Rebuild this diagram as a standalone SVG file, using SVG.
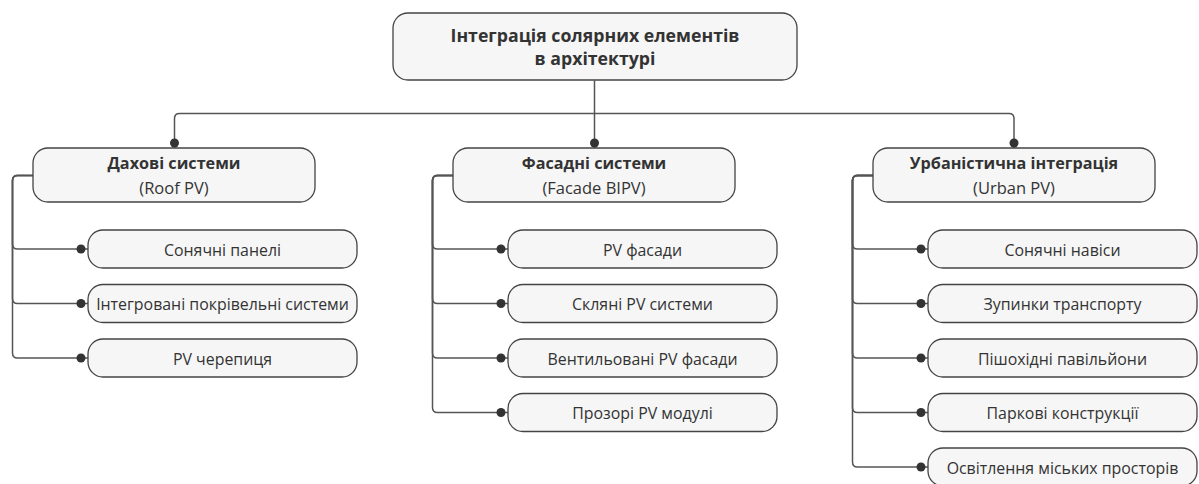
<svg xmlns="http://www.w3.org/2000/svg" width="1199" height="484" viewBox="0 0 1199 484">
<style>
.box{fill:#f6f6f6;stroke:#444;stroke-width:1.3}
.ln{fill:none;stroke:#555;stroke-width:1.5}
.dot{fill:#333}
text{font-family:"Open Sans","Noto Sans","Liberation Sans",sans-serif;fill:#333;text-anchor:middle}
.t{font-size:17.7px;font-weight:bold}
.h{font-size:16.2px;font-weight:bold}
.s{font-size:16.5px}
.c{font-size:15.9px}
</style>
<rect width="1199" height="484" fill="#ffffff"/>
<g id="connectors">
<path class="ln" d="M594.5 80.5 V148"/>
<path class="ln" d="M594.5 113.5 H179.5 Q174.5 113.5 174.5 118.5 V148"/>
<path class="ln" d="M594.5 113.5 H1009 Q1014 113.5 1014 118.5 V148"/>
<circle class="dot" cx="174.5" cy="143" r="4.5"/>
<circle class="dot" cx="594.5" cy="143" r="4.5"/>
<circle class="dot" cx="1014" cy="143" r="4.5"/>
<path class="ln" d="M33 175.5 H17.5 Q12.5 175.5 12.5 180.5 V244 Q12.5 249 17.5 249 H88"/>
<path class="ln" d="M33 175.5 H17.5 Q12.5 175.5 12.5 180.5 V298.5 Q12.5 303.5 17.5 303.5 H88"/>
<path class="ln" d="M33 175.5 H17.5 Q12.5 175.5 12.5 180.5 V353 Q12.5 358 17.5 358 H88"/>
<circle class="dot" cx="81" cy="249" r="4.5"/>
<circle class="dot" cx="81" cy="303.5" r="4.5"/>
<circle class="dot" cx="81" cy="358" r="4.5"/>
<path class="ln" d="M453 175.5 H437.5 Q432.5 175.5 432.5 180.5 V244 Q432.5 249 437.5 249 H508"/>
<path class="ln" d="M453 175.5 H437.5 Q432.5 175.5 432.5 180.5 V298.5 Q432.5 303.5 437.5 303.5 H508"/>
<path class="ln" d="M453 175.5 H437.5 Q432.5 175.5 432.5 180.5 V353 Q432.5 358 437.5 358 H508"/>
<path class="ln" d="M453 175.5 H437.5 Q432.5 175.5 432.5 180.5 V407.5 Q432.5 412.5 437.5 412.5 H508"/>
<circle class="dot" cx="501" cy="249" r="4.5"/>
<circle class="dot" cx="501" cy="303.5" r="4.5"/>
<circle class="dot" cx="501" cy="358" r="4.5"/>
<circle class="dot" cx="501" cy="412.5" r="4.5"/>
<path class="ln" d="M873 175.5 H857.5 Q852.5 175.5 852.5 180.5 V244 Q852.5 249 857.5 249 H928"/>
<path class="ln" d="M873 175.5 H857.5 Q852.5 175.5 852.5 180.5 V298.5 Q852.5 303.5 857.5 303.5 H928"/>
<path class="ln" d="M873 175.5 H857.5 Q852.5 175.5 852.5 180.5 V353 Q852.5 358 857.5 358 H928"/>
<path class="ln" d="M873 175.5 H857.5 Q852.5 175.5 852.5 180.5 V407.5 Q852.5 412.5 857.5 412.5 H928"/>
<path class="ln" d="M873 175.5 H857.5 Q852.5 175.5 852.5 180.5 V462 Q852.5 467 857.5 467 H928"/>
<circle class="dot" cx="921" cy="249" r="4.5"/>
<circle class="dot" cx="921" cy="303.5" r="4.5"/>
<circle class="dot" cx="921" cy="358" r="4.5"/>
<circle class="dot" cx="921" cy="412.5" r="4.5"/>
<circle class="dot" cx="921" cy="467" r="4.5"/>
</g>
<g id="root">
<rect class="box" x="393" y="13" width="404" height="67" rx="15"/>
<text class="t" x="595" y="42">Інтеграція солярних елементів</text>
<text class="t" x="595" y="65">в архітектурі</text>
</g>
<g id="roof">
<rect class="box" x="33" y="148" width="282" height="54" rx="15"/>
<text class="h" x="174" y="169">Дахові системи</text>
<text class="s" x="174" y="193.5">(Roof PV)</text>
</g>
<g id="facade">
<rect class="box" x="453" y="148" width="282" height="54" rx="15"/>
<text class="h" x="594" y="169">Фасадні системи</text>
<text class="s" x="594" y="193.5">(Facade BIPV)</text>
</g>
<g id="urban">
<rect class="box" x="873" y="148" width="282" height="54" rx="15"/>
<text class="h" x="1014" y="169">Урбаністична інтеграція</text>
<text class="s" x="1014" y="193.5">(Urban PV)</text>
</g>
<g id="roof-1"><rect class="box" x="88" y="230" width="269" height="38" rx="15"/><text class="c" x="222.5" y="255.5">Сонячні панелі</text></g>
<g id="roof-2"><rect class="box" x="88" y="284.5" width="269" height="38" rx="15"/><text class="c" x="222.5" y="310">Інтегровані покрівельні системи</text></g>
<g id="roof-3"><rect class="box" x="88" y="339" width="269" height="38" rx="15"/><text class="c" x="222.5" y="364.5">PV черепиця</text></g>
<g id="facade-1"><rect class="box" x="508" y="230" width="269" height="38" rx="15"/><text class="c" x="642.5" y="255.5">PV фасади</text></g>
<g id="facade-2"><rect class="box" x="508" y="284.5" width="269" height="38" rx="15"/><text class="c" x="642.5" y="310">Скляні PV системи</text></g>
<g id="facade-3"><rect class="box" x="508" y="339" width="269" height="38" rx="15"/><text class="c" x="642.5" y="364.5">Вентильовані PV фасади</text></g>
<g id="facade-4"><rect class="box" x="508" y="393.5" width="269" height="38" rx="15"/><text class="c" x="642.5" y="419">Прозорі PV модулі</text></g>
<g id="urban-1"><rect class="box" x="928" y="230" width="269" height="38" rx="15"/><text class="c" x="1062.5" y="255.5">Сонячні навіси</text></g>
<g id="urban-2"><rect class="box" x="928" y="284.5" width="269" height="38" rx="15"/><text class="c" x="1062.5" y="310">Зупинки транспорту</text></g>
<g id="urban-3"><rect class="box" x="928" y="339" width="269" height="38" rx="15"/><text class="c" x="1062.5" y="364.5">Пішохідні павільйони</text></g>
<g id="urban-4"><rect class="box" x="928" y="393.5" width="269" height="38" rx="15"/><text class="c" x="1062.5" y="419">Паркові конструкції</text></g>
<g id="urban-5"><rect class="box" x="928" y="448" width="269" height="38" rx="15"/><text class="c" x="1062.5" y="473.5">Освітлення міських просторів</text></g>
</svg>
